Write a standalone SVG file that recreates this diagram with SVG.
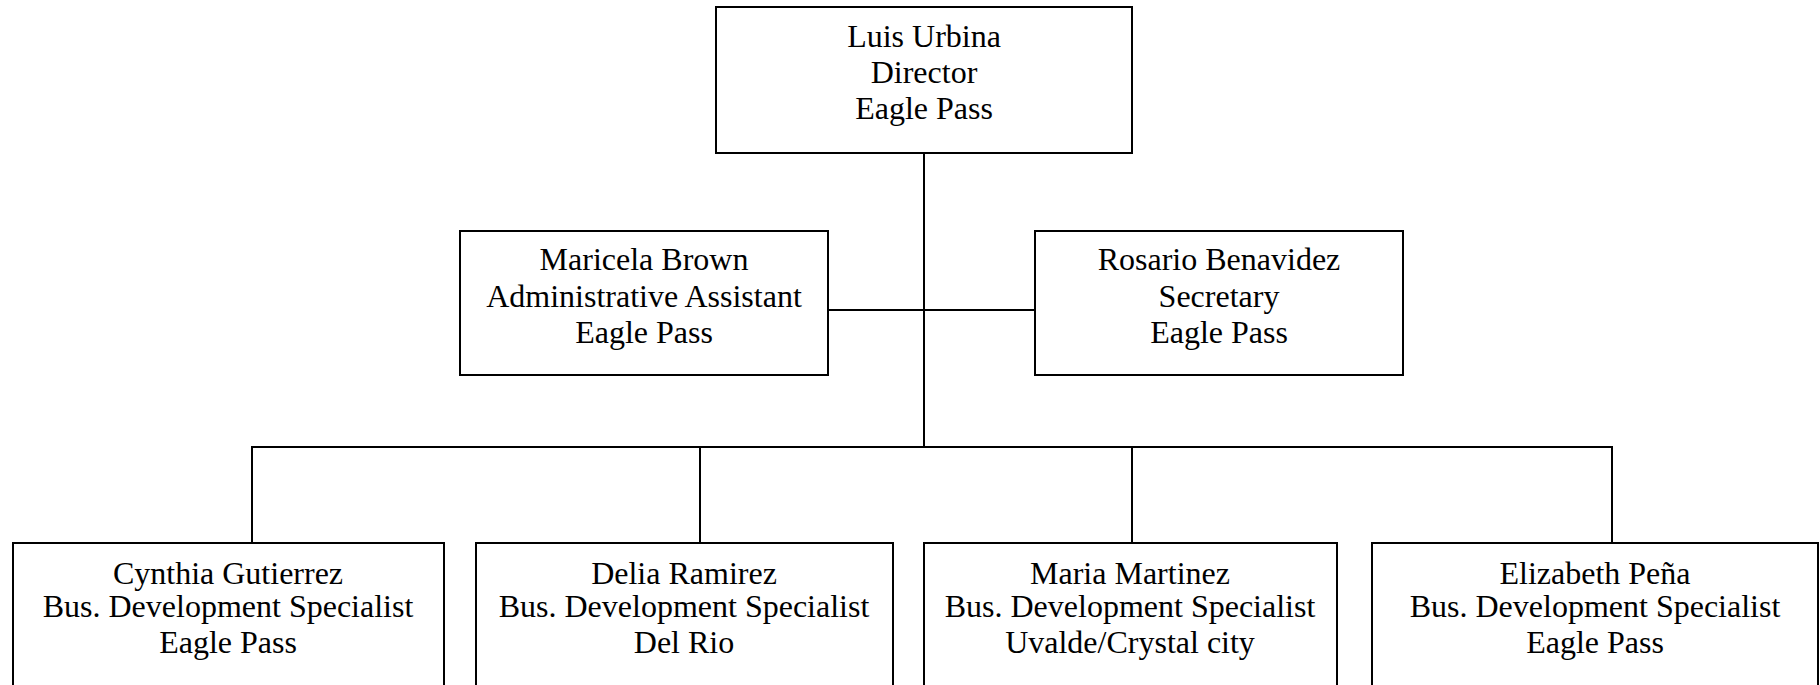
<svg xmlns="http://www.w3.org/2000/svg" width="1820" height="685" viewBox="0 0 1820 685">
<style>
.box{fill:#fff;stroke:#000;stroke-width:2}
.t{font-family:"Liberation Serif","Times New Roman",serif;font-size:32px;fill:#000;text-anchor:middle}
.c{fill:none;stroke:#000;stroke-width:2}
</style>
<rect width="1820" height="685" fill="#fff"/>
<g id="connectors">
<line class="c" x1="924" y1="153" x2="924" y2="447"/>
<line class="c" x1="828" y1="310" x2="1035" y2="310"/>
<polyline class="c" points="252,543 252,447 1612,447 1612,543"/>
<line class="c" x1="700" y1="447" x2="700" y2="543"/>
<line class="c" x1="1132" y1="447" x2="1132" y2="543"/>
</g>
<g id="n-director">
<rect class="box" x="716" y="7" width="416" height="146"/>
<text class="t" x="924" y="47">Luis Urbina</text>
<text class="t" x="924" y="83">Director</text>
<text class="t" x="924" y="119">Eagle Pass</text>
</g>
<g id="n-admin">
<rect class="box" x="460" y="231" width="368" height="144"/>
<text class="t" x="644" y="270">Maricela Brown</text>
<text class="t" x="644" y="307">Administrative Assistant</text>
<text class="t" x="644" y="343">Eagle Pass</text>
</g>
<g id="n-secretary">
<rect class="box" x="1035" y="231" width="368" height="144"/>
<text class="t" x="1219" y="270">Rosario Benavidez</text>
<text class="t" x="1219" y="307">Secretary</text>
<text class="t" x="1219" y="343">Eagle Pass</text>
</g>
<g id="n-cynthia">
<rect class="box" x="13" y="543" width="431" height="160"/>
<text class="t" x="228" y="584">Cynthia Gutierrez</text>
<text class="t" x="228" y="617">Bus. Development Specialist</text>
<text class="t" x="228" y="653">Eagle Pass</text>
</g>
<g id="n-delia">
<rect class="box" x="476" y="543" width="417" height="160"/>
<text class="t" x="684" y="584">Delia Ramirez</text>
<text class="t" x="684" y="617">Bus. Development Specialist</text>
<text class="t" x="684" y="653">Del Rio</text>
</g>
<g id="n-maria">
<rect class="box" x="924" y="543" width="413" height="160"/>
<text class="t" x="1130" y="584">Maria Martinez</text>
<text class="t" x="1130" y="617">Bus. Development Specialist</text>
<text class="t" x="1130" y="653">Uvalde/Crystal city</text>
</g>
<g id="n-elizabeth">
<rect class="box" x="1372" y="543" width="446" height="160"/>
<text class="t" x="1595" y="584">Elizabeth Peña</text>
<text class="t" x="1595" y="617">Bus. Development Specialist</text>
<text class="t" x="1595" y="653">Eagle Pass</text>
</g>
</svg>
